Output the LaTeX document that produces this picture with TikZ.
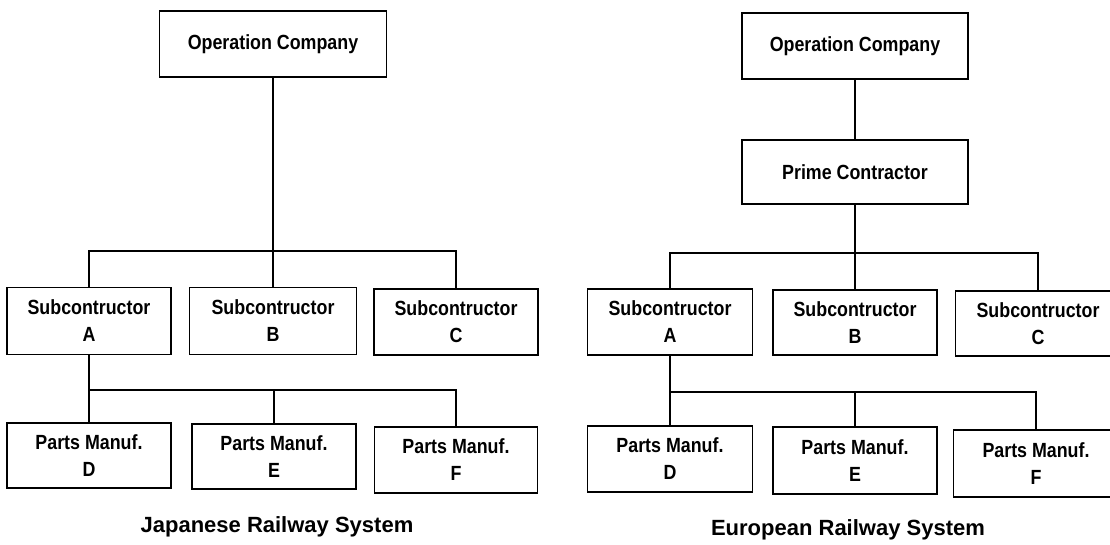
\documentclass[tikz,border=0pt]{standalone}
\usepackage{fontspec}
\setmainfont{Liberation Sans}
% slightly condensed face for the box labels
\newfontfamily\boxface{Liberation Sans}[FakeStretch=0.87]
\begin{document}
\begin{tikzpicture}[x=1pt,y=-1pt,
  box/.style={draw, line width=1.9pt, inner sep=0pt, align=center,
    font=\boxface\fontsize{20.5}{27}\selectfont\bfseries},
  wire/.style={line width=1.9pt},
  caption/.style={font=\fontsize{22}{26}\selectfont\bfseries, inner sep=0pt}]
\useasboundingbox (0,0) rectangle (1110,544);

% ---- Japanese railway system ----
\node[box, minimum width=227pt, minimum height=66pt] (jop) at (273,44) {Operation Company};
\node[box, minimum width=164pt, minimum height=67pt] (jA) at (89,321) {Subcontructor\\A};
\node[box, minimum width=167pt, minimum height=67pt] (jB) at (273,321) {Subcontructor\\B};
\node[box, minimum width=164pt, minimum height=66pt] (jC) at (456,322) {Subcontructor\\C};
\node[box, minimum width=164pt, minimum height=65pt] (jD) at (89,455.5) {Parts Manuf.\\D};
\node[box, minimum width=164pt, minimum height=65pt] (jE) at (274,456.5) {Parts Manuf.\\E};
\node[box, minimum width=163pt, minimum height=66pt] (jF) at (456,460) {Parts Manuf.\\F};
\node[caption] (jcap) at (277,527) {Japanese Railway System};

\coordinate (jbus) at (273,251);
\draw[wire] (jop.south) -- (jbus);
\draw[wire] (jA.north) |- (jbus) -| (jC.north);
\draw[wire] (jbus) -- (jB.north);
\coordinate (jsub) at (89,390);
\draw[wire] (jA.south) -- (jsub) -| (jF.north);
\draw[wire] (jsub) -- (jD.north);
\draw[wire] (jE.north) -- (jE.north |- jsub);

% ---- European railway system ----
\node[box, minimum width=226pt, minimum height=66pt] (eop) at (855,46) {Operation Company};
\node[box, minimum width=226pt, minimum height=64pt] (ep) at (855,172) {Prime Contractor};
\node[box, minimum width=165pt, minimum height=66pt] (eA) at (670,322) {Subcontructor\\A};
\node[box, minimum width=164pt, minimum height=65pt] (eB) at (855,322.5) {Subcontructor\\B};
\node[box, minimum width=165pt, minimum height=65pt] (eC) at (1038,323.5) {Subcontructor\\C};
\node[box, minimum width=165pt, minimum height=66pt] (eD) at (670,459) {Parts Manuf.\\D};
\node[box, minimum width=164pt, minimum height=67pt] (eE) at (855,460.5) {Parts Manuf.\\E};
\node[box, minimum width=165pt, minimum height=67pt] (eF) at (1036,463.5) {Parts Manuf.\\F};
\node[caption] (ecap) at (848,530) {European Railway System};

\draw[wire] (eop.south) -- (ep.north);
\coordinate (ebus) at (855,253);
\draw[wire] (ep.south) -- (ebus);
\draw[wire] (eA.north) |- (ebus) -| (eC.north);
\draw[wire] (ebus) -- (eB.north);
\coordinate (esub) at (670,392);
\draw[wire] (eA.south) -- (esub) -| (eF.north);
\draw[wire] (esub) -- (eD.north);
\draw[wire] (eE.north) -- (eE.north |- esub);
\end{tikzpicture}
\end{document}
